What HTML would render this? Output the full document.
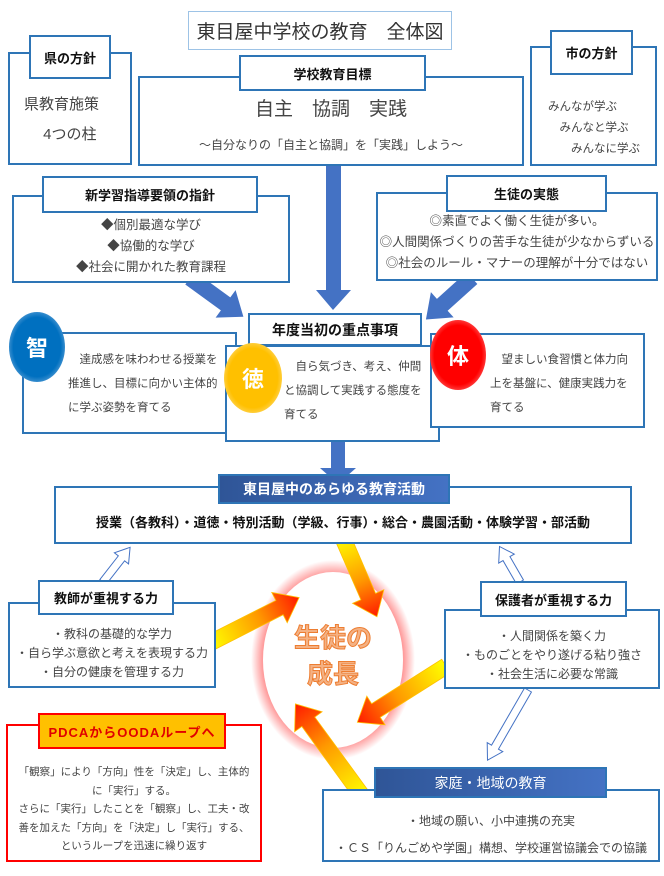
<!DOCTYPE html>
<html><head><meta charset="utf-8"><style>
*{margin:0;padding:0;box-sizing:border-box}
body{width:664px;height:876px;background:#fff;position:relative;overflow:hidden;font-family:"Liberation Sans","Noto Sans CJK JP",sans-serif;color:#333}
.b{position:absolute;border:2.5px solid #2e75b6;background:#fff}
.l{position:absolute;border:2.5px solid #2e75b6;background:#fff;font-weight:bold;color:#111;font-size:13px;display:flex;align-items:center;justify-content:center;white-space:nowrap}
.t{position:absolute;font-size:12px;line-height:19px;color:#444;white-space:nowrap}
.c{text-align:center}
.circ{position:absolute;border-radius:50%;color:#fff;font-weight:bold;font-size:22px;display:flex;align-items:center;justify-content:center}
svg{position:absolute;left:0;top:0}
</style></head><body>
<svg width="664" height="876">
<defs>
<linearGradient id="g" x1="0" x2="1" y1="0" y2="0"><stop offset="0" stop-color="#ffff00"/><stop offset="0.55" stop-color="#ff9900"/><stop offset="1" stop-color="#ff1a00"/></linearGradient>
<radialGradient id="gl"><stop offset="0.78" stop-color="#fff"/><stop offset="0.86" stop-color="#ff9a9a"/><stop offset="1" stop-color="#fff"/></radialGradient>
</defs>
<ellipse cx="333" cy="660" rx="82" ry="100" fill="url(#gl)"/>
<ellipse cx="333" cy="660" rx="70" ry="88" fill="#fff"/>
<rect x="326" y="166" width="15" height="126" fill="#4472c4"/>
<polygon points="316,290 351,290 333,310" fill="#4472c4"/>
<g transform="translate(190,278) rotate(36)"><polygon points="0,-8 44,-8 44,-17 66,0 44,17 44,8 0,8" fill="#4472c4"/></g>
<g transform="translate(472,278) rotate(138)"><polygon points="0,-8 40,-8 40,-17 62,0 40,17 40,8 0,8" fill="#4472c4"/></g>
<rect x="331" y="440" width="14" height="30" fill="#4472c4"/>
<polygon points="320,468 356,468 338,484" fill="#4472c4"/>
<g fill="#fff" stroke="#4472c4" stroke-width="1"><g transform="translate(103,582) rotate(-52)"><polygon points="0,-4 30,-4 30,-9 44,0 30,9 30,4 0,4"/></g>
<g transform="translate(520,582) rotate(-120)"><polygon points="0,-4 27,-4 27,-9 41,0 27,9 27,4 0,4"/></g>
<g transform="translate(528,690) rotate(120)"><polygon points="0,-4 66,-4 66,-9 81,0 66,9 66,4 0,4"/></g></g>
<g stroke="#ffc000" stroke-width="0.8">
<g transform="translate(210,643) rotate(-27)"><polygon points="0,-8 78,-8 78,-17 100,0 78,17 78,8 0,8" fill="url(#g)"/></g>
<g transform="translate(342,536) rotate(66.6)"><polygon points="0,-8 66,-8 66,-17 88,0 66,17 66,8 0,8" fill="url(#g)"/></g>
<g transform="translate(446,666) rotate(147.6)"><polygon points="0,-8 83,-8 83,-17 105,0 83,17 83,8 0,8" fill="url(#g)"/></g>
<g transform="translate(363,797) rotate(-126)"><polygon points="0,-8 93,-8 93,-17 115,0 93,17 93,8 0,8" fill="url(#g)"/></g>
</g>
</svg>

<div class="b" style="left:188px;top:11px;width:264px;height:39px;border-color:#9dc3e6;border-width:1.5px;font-size:19px;color:#333;display:flex;align-items:center;justify-content:center">東目屋中学校の教育　全体図</div>

<div class="b" style="left:8px;top:52px;width:124px;height:113px"></div>
<div class="l" style="left:29px;top:35px;width:82px;height:44px">県の方針</div>
<div class="t" style="left:24px;top:90px;font-size:15px;line-height:30px">県教育施策<br>　 4つの柱</div>

<div class="b" style="left:138px;top:76px;width:386px;height:90px"></div>
<div class="l" style="left:239px;top:55px;width:187px;height:36px">学校教育目標</div>
<div class="t c" style="left:138px;top:96px;width:386px;font-size:19px;line-height:28px">自主　協調　実践</div>
<div class="t c" style="left:138px;top:136px;width:386px;font-size:12px">～自分なりの「自主と協調」を「実践」しよう～</div>

<div class="b" style="left:530px;top:46px;width:127px;height:120px"></div>
<div class="l" style="left:550px;top:30px;width:83px;height:45px">市の方針</div>
<div class="t" style="left:548px;top:97px;line-height:21px;font-size:11.5px">みんなが学ぶ<br>　みんなと学ぶ<br>　　みんなに学ぶ</div>

<div class="b" style="left:12px;top:195px;width:278px;height:88px"></div>
<div class="l" style="left:42px;top:176px;width:216px;height:37px">新学習指導要領の指針</div>
<div class="t c" style="left:12px;top:215px;width:278px;font-size:12.5px;line-height:21px">◆個別最適な学び<br>◆協働的な学び<br>◆社会に開かれた教育課程</div>

<div class="b" style="left:376px;top:192px;width:282px;height:89px"></div>
<div class="l" style="left:446px;top:175px;width:161px;height:37px">生徒の実態</div>
<div class="t c" style="left:376px;top:211px;width:282px;font-size:12.5px;line-height:21px">◎素直でよく働く生徒が多い。<br>◎人間関係づくりの苦手な生徒が少なからずいる<br>◎社会のルール・マナーの理解が十分ではない</div>

<div class="l" style="left:248px;top:313px;width:174px;height:33px;font-size:14px">年度当初の重点事項</div>

<div class="b" style="left:22px;top:332px;width:215px;height:102px"></div>
<div class="t" style="left:68px;top:348px;font-size:11.5px;line-height:24px">　達成感を味わわせる授業を<br>推進し、目標に向かい主体的<br>に学ぶ姿勢を育てる</div>
<div class="circ" style="left:9px;top:312px;width:56px;height:70px;background:radial-gradient(#0070c0 60%,#7fb3e0 85%,#fff 100%)">智</div>

<div class="b" style="left:225px;top:345px;width:215px;height:97px"></div>
<div class="t" style="left:284px;top:355px;font-size:11.5px;line-height:24px">　自ら気づき、考え、仲間<br>と協調して実践する態度を<br>育てる</div>
<div class="circ" style="left:224px;top:343px;width:58px;height:70px;background:radial-gradient(#ffc000 60%,#ffe08a 85%,#fff 100%)">徳</div>

<div class="b" style="left:430px;top:333px;width:215px;height:95px"></div>
<div class="t" style="left:490px;top:348px;font-size:11.5px;line-height:24px">　望ましい食習慣と体力向<br>上を基盤に、健康実践力を<br>育てる</div>
<div class="circ" style="left:430px;top:320px;width:56px;height:70px;background:radial-gradient(#ff0000 60%,#ff8080 85%,#fff 100%)">体</div>

<div class="b" style="left:54px;top:486px;width:578px;height:58px"></div>
<div class="l" style="left:218px;top:474px;width:232px;height:30px;background:linear-gradient(90deg,#2f5597,#4472c4);color:#fff;font-size:14px">東目屋中のあらゆる教育活動</div>
<div class="t c" style="left:54px;top:513px;width:578px;font-size:13px;font-weight:bold;color:#111">授業（各教科）・道徳・特別活動（学級、行事）・総合・農園活動・体験学習・部活動</div>

<div class="b" style="left:8px;top:602px;width:208px;height:86px"></div>
<div class="l" style="left:38px;top:580px;width:136px;height:35px">教師が重視する力</div>
<div class="t c" style="left:8px;top:625px;width:208px;font-size:12px;line-height:19px">・教科の基礎的な学力<br>・自ら学ぶ意欲と考えを表現する力<br>・自分の健康を管理する力</div>

<div class="b" style="left:444px;top:609px;width:216px;height:80px"></div>
<div class="l" style="left:480px;top:581px;width:147px;height:36px">保護者が重視する力</div>
<div class="t c" style="left:444px;top:627px;width:216px;font-size:12px;line-height:19px">・人間関係を築く力<br>・ものごとをやり遂げる粘り強さ<br>・社会生活に必要な常識</div>

<div class="t c" style="left:263px;top:620px;width:140px;font-size:26px;line-height:36px;font-weight:bold;color:#f4b183;-webkit-text-stroke:1px #ed7d31">生徒の<br>成長</div>

<div class="b" style="left:6px;top:724px;width:256px;height:138px;border-color:#ff0000"></div>
<div class="l" style="left:38px;top:713px;width:188px;height:36px;background:#ffc000;border-color:#ff0000;color:#e00000;font-size:13px;letter-spacing:1px">PDCAからOODAループへ</div>
<div class="t c" style="left:6px;top:763px;width:256px;font-size:10.5px;line-height:18.5px">「観察」により「方向」性を「決定」し、主体的<br>に「実行」する。<br>さらに「実行」したことを「観察」し、工夫・改<br>善を加えた「方向」を「決定」し「実行」する、<br>というループを迅速に繰り返す</div>

<div class="b" style="left:322px;top:789px;width:338px;height:73px"></div>
<div class="l" style="left:374px;top:767px;width:233px;height:31px;background:linear-gradient(90deg,#2f5597,#4472c4);color:#fff;font-size:14px;font-weight:normal">家庭・地域の教育</div>
<div class="t c" style="left:322px;top:808px;width:338px;font-size:12px;line-height:27px">・地域の願い、小中連携の充実<br>・ＣＳ「りんごめや学園」構想、学校運営協議会での協議</div>
</body></html>
